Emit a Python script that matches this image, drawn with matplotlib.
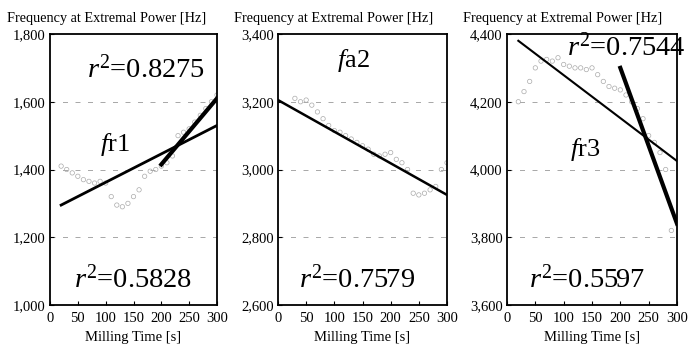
import matplotlib.pyplot as plt
from matplotlib.ticker import FuncFormatter

plt.rcParams['font.family'] = ['Liberation Serif', 'DejaVu Serif']
plt.rcParams['mathtext.fontset'] = 'custom'
plt.rcParams['mathtext.rm'] = 'Liberation Serif'
plt.rcParams['mathtext.it'] = 'Liberation Serif:italic'

# panel 1: f_r1
t1 = [20, 30, 40, 50, 60, 70, 80, 90, 100, 110, 120, 130, 140, 150, 160, 170, 180, 190,
      200, 210, 220, 230, 240, 250, 260, 270, 280, 290, 300]
y1 = [1410, 1400, 1390, 1380, 1370, 1365, 1360, 1365, 1360, 1320, 1295, 1290, 1300, 1320,
      1340, 1380, 1395, 1400, 1410, 1420, 1440, 1500, 1510, 1520, 1540, 1560, 1580, 1600, 1620]
fit1_all_t = [20, 300]
fit1_all_y = [1295, 1530]
fit1_end_t = [200, 300]
fit1_end_y = [1415, 1610]

# panel 2: f_a2
t2 = [30, 40, 50, 60, 70, 80, 90, 100, 110, 120, 130, 140, 150, 160, 170, 180, 190, 200,
      210, 220, 230, 240, 250, 260, 270, 280, 290, 300]
y2 = [3210, 3200, 3205, 3190, 3170, 3150, 3130, 3115, 3110, 3100, 3090, 3080, 3070, 3060,
      3045, 3040, 3045, 3050, 3030, 3020, 3000, 2930, 2925, 2930, 2940, 2950, 3000, 3020]
fit2_t = [0, 300]
fit2_y = [3205, 2925]

# panel 3: f_r3
t3 = [20, 30, 40, 50, 60, 70, 80, 90, 100, 110, 120, 130, 140, 150, 160, 170, 180, 190,
      200, 210, 220, 230, 240, 250, 260, 270, 280, 290]
y3 = [4200, 4230, 4260, 4300, 4320, 4325, 4320, 4330, 4310, 4305, 4300, 4300, 4295, 4300,
      4280, 4260, 4245, 4240, 4235, 4220, 4200, 4180, 4150, 4100, 4080, 4050, 4000, 3820]
fit3_all_t = [20, 300]
fit3_all_y = [4380, 4025]
fit3_end_t = [200, 300]
fit3_end_y = [4300, 3840]

ylims = [(1000, 1800), (2600, 3400), (3600, 4400)]
yticks = [[1000, 1200, 1400, 1600, 1800], [2600, 2800, 3000, 3200, 3400],
          [3600, 3800, 4000, 4200, 4400]]
xticks = [0, 50, 100, 150, 200, 250, 300]

fig = plt.figure(figsize=(6.88, 3.51), dpi=100)
W, H = 688, 351
boxes = [(50, 217), (278, 447), (507, 677)]
top, bottom = 34, 305
axes = []
for l, r in boxes:
    axes.append(fig.add_axes([l / W, 1 - bottom / H, (r - l) / W, (bottom - top) / H]))

comma = FuncFormatter(lambda v, p: f"{int(v):,}")

for i, ax in enumerate(axes):
    ax.set_xlim(0, 300)
    ax.set_ylim(*ylims[i])
    ax.set_yticks(yticks[i])
    ax.set_xticks(xticks)
    ax.yaxis.set_major_formatter(comma)
    ax.tick_params(direction='in', length=3, labelsize=10.5, colors='black', pad=5)
    ax.tick_params(axis='y', pad=3)
    for s in ax.spines.values():
        s.set_linewidth(1.3)
    for yv in yticks[i][1:-1]:
        ax.axhline(yv, color='#999999', lw=0.6, ls=(0, (6, 9)), zorder=0)
    ax.set_xlabel('Milling Time [s]', fontsize=10.5, labelpad=4)
    ax.text(-0.26, 1.035, 'Frequency at Extremal Power [Hz]', transform=ax.transAxes,
            fontsize=10.3, ha='left', va='bottom')

pt = dict(s=10, facecolors='none', edgecolors='#aaaaaa', linewidths=0.5, zorder=1)
big = 20.5

ax = axes[0]
ax.scatter(t1, y1, **pt)
ax.plot(fit1_all_t, fit1_all_y, color='black', lw=2.0)
ax.plot(fit1_end_t, fit1_end_y, color='black', lw=3.0)
ax.text(0.93, 0.84, r'$r^2$=0.8275', transform=ax.transAxes, fontsize=big, ha='right')
ax.text(0.50, 0.065, r'$r^2$=0.5828', transform=ax.transAxes, fontsize=big, ha='center')
ax.text(0.30, 0.57, r'$f$r1', transform=ax.transAxes, fontsize=19)

ax = axes[1]
ax.scatter(t2, y2, **pt)
ax.plot(fit2_t, fit2_y, color='black', lw=1.8)
ax.text(0.47, 0.065, r'$r^2$=0.7579', transform=ax.transAxes, fontsize=big, ha='center')
ax.text(0.35, 0.88, r'$f$a2', transform=ax.transAxes, fontsize=19)

ax = axes[2]
ax.scatter(t3, y3, **pt)
ax.plot(fit3_all_t, fit3_all_y, color='black', lw=1.5)
ax.plot(fit3_end_t, fit3_end_y, color='black', lw=3.0)
ax.text(1.05, 0.92, r'$r^2$=0.7544', transform=ax.transAxes, fontsize=big, ha='right')
ax.text(0.47, 0.065, r'$r^2$=0.5597', transform=ax.transAxes, fontsize=big, ha='center')
ax.text(0.37, 0.55, r'$f$r3', transform=ax.transAxes, fontsize=19)

fig.savefig('out.png', dpi=100)
